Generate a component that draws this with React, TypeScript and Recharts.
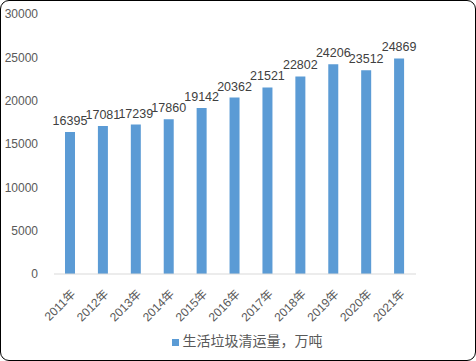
import React from "react";
import { BarChart, Bar, XAxis, YAxis, Legend, LabelList } from "recharts";

const years = ["2011年", "2012年", "2013年", "2014年", "2015年", "2016年", "2017年", "2018年", "2019年", "2020年", "2021年"];
const volumes = [16395, 17081, 17239, 17860, 19142, 20362, 21521, 22802, 24206, 23512, 24869];
const yTicks = [0, 5000, 10000, 15000, 20000, 25000, 30000];
const seriesName = "生活垃圾清运量，万吨";

const data = years.map((y, i) => ({ year: y, v: volumes[i] }));

const latin = "Liberation Sans, Arial, sans-serif";
const cjk = "'Noto Sans CJK SC', sans-serif";

const XTick = (props: any) => {
  const { x, y, payload } = props;
  return (
    <g transform={`translate(${x + 3},${y + 10})`}>
      <text transform="rotate(-45)" textAnchor="end" dominantBaseline="central" fontSize={12} fill="#595959" fontFamily={`${latin}, ${cjk}`}>
        {payload.value}
      </text>
    </g>
  );
};

export default function App() {
  return (
    <div style={{ position: "absolute", left: 0, top: 0, width: 476, height: 361 }}>
      <div
        style={{
          position: "absolute",
          left: 0,
          top: 0,
          width: 476,
          height: 361,
          boxSizing: "border-box",
          border: "1.5px solid #000",
          borderRadius: 9,
          background: "#fff",
        }}
      />
      <div style={{ position: "absolute", left: 0, top: 0 }}>
        <BarChart width={476} height={361} data={data} margin={{ top: 14, right: 60, left: 8, bottom: 10 }}>
          <XAxis
            dataKey="year"
            tickLine={false}
            axisLine={{ stroke: "#D9D9D9", strokeWidth: 1 }}
            interval={0}
            height={57}
            tick={<XTick />}
          />
          <YAxis
            width={46}
            domain={[0, 30000]}
            ticks={yTicks}
            axisLine={false}
            tickLine={false}
            tickSize={0}
            tickMargin={16}
            tick={{ fontSize: 12, fill: "#595959", fontFamily: latin }}
          />
          <Legend
            verticalAlign="bottom"
            align="center"
            iconType="square"
            iconSize={7}
            wrapperStyle={{ fontFamily: cjk, fontSize: 14, color: "#595959", left: 0, width: 476, bottom: 11, paddingLeft: 14 }}
            formatter={(v: any) => <span style={{ color: "#595959" }}>{v}</span>}
          />
          <Bar dataKey="v" name={seriesName} fill="#5B9BD5" barSize={10} isAnimationActive={false}>
            <LabelList dataKey="v" position="top" offset={7} style={{ fontSize: 12.5, fill: "#404040", fontFamily: latin }} />
          </Bar>
        </BarChart>
      </div>
    </div>
  );
}
